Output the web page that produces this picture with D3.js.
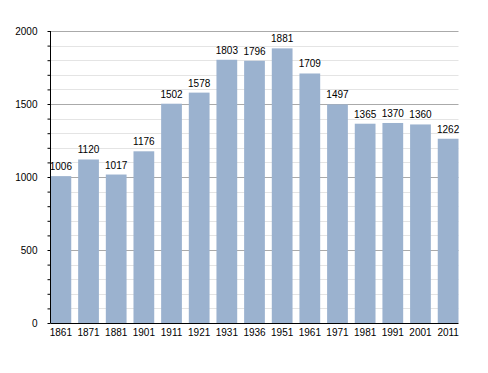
<!DOCTYPE html>
<html><head><meta charset="utf-8">
<script src="https://cdn.jsdelivr.net/npm/d3@7"></script>
<style>body{margin:0;background:#fff}svg{display:block}text{font-family:"Liberation Sans",Arial,sans-serif;font-size:10px;fill:#000}</style>
</head><body>
<script>
const years = ["1861","1871","1881","1901","1911","1921","1931","1936","1951","1961","1971","1981","1991","2001","2011"];
const population = [1006,1120,1017,1176,1502,1578,1803,1796,1881,1709,1497,1365,1370,1360,1262];
const majorTicks = [0,500,1000,1500,2000];

const W=488,H=373;
const svg=d3.select("body").append("svg").attr("width",W).attr("height",H);
const x0=50.5,x1=458.5,yb=323,yt=31;
const x=d3.scaleBand().domain(years).range([x0,x1]).paddingInner(0.25).paddingOuter(0);
const y=d3.scaleLinear().domain([0,2000]).range([yb,yt]);
const minor=d3.range(100,2000,100).filter(v=>v%500!==0);

svg.append("g").selectAll("line").data(minor).join("line")
 .attr("x1",x0).attr("x2",x1).attr("y1",d=>Math.round(y(d))+0.5).attr("y2",d=>Math.round(y(d))+0.5)
 .attr("stroke","#e4e4e4").attr("stroke-width",1);
svg.append("g").selectAll("line").data(majorTicks.slice(1)).join("line")
 .attr("x1",x0).attr("x2",x1).attr("y1",d=>Math.round(y(d))+0.5).attr("y2",d=>Math.round(y(d))+0.5)
 .attr("stroke","#aaaaaa").attr("stroke-width",1);

svg.append("g").selectAll("rect").data(population).join("rect")
 .attr("x",(d,i)=>x(years[i])).attr("width",x.bandwidth())
 .attr("y",d=>y(d)).attr("height",d=>yb-y(d)).attr("fill","#9bb2cf");

svg.append("g").selectAll("text").data(population).join("text")
 .attr("x",(d,i)=>x(years[i])+x.bandwidth()/2).attr("y",d=>y(d)-6)
 .attr("text-anchor","middle").text(d=>d);

// y axis
const ya=svg.append("g").attr("transform",`translate(${x0},0)`)
 .call(d3.axisLeft(y).tickValues(majorTicks).tickSize(3).tickFormat(d3.format("d")));
ya.select(".domain").remove();
svg.append("g").attr("transform",`translate(${x0},0)`)
 .call(d3.axisLeft(y).tickValues(minor).tickSize(3).tickFormat("")).select(".domain").remove();
svg.selectAll(".tick line").attr("stroke","#000");
ya.selectAll("text").attr("x",-13).style("font-size","10px").attr("font-family","Liberation Sans, Arial, sans-serif").attr("fill","#000");
svg.append("line").attr("x1",x0).attr("x2",x0).attr("y1",yt).attr("y2",yb).attr("stroke","#000");
svg.append("line").attr("x1",x0).attr("x2",x1).attr("y1",yb+0.5).attr("y2",yb+0.5).attr("stroke","#000");

// x labels
const xa=svg.append("g").attr("transform",`translate(0,${yb})`).call(d3.axisBottom(x).tickSize(0).tickPadding(6));
xa.select(".domain").remove();
xa.selectAll("text").style("font-size","10px").attr("font-family","Liberation Sans, Arial, sans-serif").attr("fill","#000");
</script>
</body></html>
